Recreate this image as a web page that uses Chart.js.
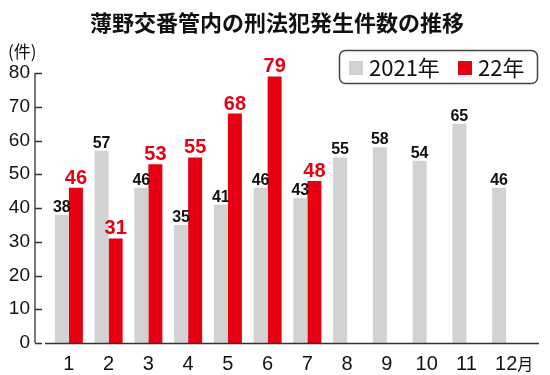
<!DOCTYPE html>
<html lang="ja">
<head>
<meta charset="utf-8">
<title>薄野交番管内の刑法犯発生件数の推移</title>
<script src="https://cdn.jsdelivr.net/npm/chart.js@4/dist/chart.umd.min.js"></script>
<style>
  html, body { margin: 0; padding: 0; background: #fff; }
  #wrap { width: 550px; height: 375px; }
</style>
</head>
<body>
<div id="wrap"><canvas id="chart" width="550" height="375"></canvas></div>
<script>
// データ
const months = ['1', '2', '3', '4', '5', '6', '7', '8', '9', '10', '11', '12'];
const data2021 = [38, 57, 46, 35, 41, 46, 43, 55, 58, 54, 65, 46];
const data2022 = [46, 31, 53, 55, 68, 79, 48, null, null, null, null, null];
const yTicks = [0, 10, 20, 30, 40, 50, 60, 70, 80];

const GRAY = '#d2d2d2';
const RED = '#e60012';
const NARROW = '"Liberation Sans Narrow", "Liberation Sans", sans-serif';
const JP = '"Noto Sans CJK JP", "Noto Sans", sans-serif';

// 軸・凡例・数値ラベル・タイトルを描く
const decorPlugin = {
    id: 'decor',
    afterDraw(chart) {
        const ctx = chart.ctx;
        const x = chart.scales.x;
        const y = chart.scales.y;
        const area = chart.chartArea;
        const axisX = area.left - 14;

        ctx.save();
        ctx.strokeStyle = '#333';
        ctx.lineWidth = 1.3;

        // 縦軸と目盛り
        ctx.beginPath();
        ctx.moveTo(axisX, y.getPixelForValue(yTicks[yTicks.length - 1]));
        ctx.lineTo(axisX, y.getPixelForValue(0));
        yTicks.forEach(v => {
            const py = Math.round(y.getPixelForValue(v)) + 0.5;
            ctx.moveTo(axisX, py);
            ctx.lineTo(axisX + 7, py);
        });
        // 横軸
        const py0 = Math.round(y.getPixelForValue(0)) + 0.5;
        ctx.moveTo(area.left - 4, py0);
        ctx.lineTo(area.right + 13, py0);
        ctx.stroke();

        // 「月」
        const lastX = x.getPixelForTick(months.length - 1);
        ctx.font = '20px ' + NARROW;
        const w = ctx.measureText(months[months.length - 1]).width;
        ctx.font = '16px ' + JP;
        ctx.fillStyle = '#111';
        ctx.textAlign = 'left';
        ctx.textBaseline = 'middle';
        ctx.fillText('月', lastX + w / 2, 364);

        // 数値ラベル
        chart.data.datasets.forEach((ds, i) => {
            const meta = chart.getDatasetMeta(i);
            meta.data.forEach((bar, j) => {
                const v = ds.data[j];
                if (v === null) return;
                ctx.textAlign = 'center';
                ctx.textBaseline = 'alphabetic';
                if (i === 0) {
                    ctx.font = 'bold 16px ' + NARROW;
                    ctx.fillStyle = '#111';
                    ctx.fillText(String(v), bar.x, bar.y - 3);
                } else {
                    ctx.font = 'bold 20px ' + NARROW;
                    ctx.fillStyle = RED;
                    ctx.fillText(String(v), bar.x, bar.y - 4);
                }
            });
        });

        // タイトル
        ctx.font = 'bold 22px ' + JP;
        ctx.fillStyle = '#111';
        ctx.textAlign = 'center';
        ctx.textBaseline = 'middle';
        ctx.fillText('薄野交番管内の刑法犯発生件数の推移', 277, 23);

        // 単位
        ctx.font = '17px ' + JP;
        ctx.textAlign = 'left';
        ctx.fillText('(件)', 8, 52);

        // 凡例
        ctx.beginPath();
        ctx.roundRect(339.5, 50.5, 198, 33, 6);
        ctx.lineWidth = 1.5;
        ctx.strokeStyle = '#444';
        ctx.stroke();
        ctx.font = '22px ' + JP;
        ctx.fillStyle = GRAY;
        ctx.fillRect(349, 61, 14, 14);
        ctx.fillStyle = '#111';
        ctx.fillText('2021年', 369, 68);
        ctx.fillStyle = RED;
        ctx.fillRect(458, 61, 14, 14);
        ctx.fillStyle = '#111';
        ctx.fillText('22年', 478, 68);
        ctx.restore();
    }
};

new Chart(document.getElementById('chart'), {
    type: 'bar',
    data: {
        labels: months,
        datasets: [{
            label: '2021年',
            data: data2021,
            backgroundColor: GRAY,
            barPercentage: 1,
            categoryPercentage: 0.705
        }, {
            label: '22年',
            data: data2022,
            backgroundColor: RED,
            barPercentage: 1,
            categoryPercentage: 0.705
        }]
    },
    options: {
        responsive: false,
        animation: false,
        devicePixelRatio: 1,
        layout: {
            padding: { top: 73, right: 24, bottom: 0, left: 0 }
        },
        plugins: {
            legend: { display: false },
            tooltip: { enabled: false }
        },
        scales: {
            y: {
                min: 0,
                max: 80,
                afterFit(scale) { scale.width = 49; },
                afterBuildTicks(scale) { scale.ticks = yTicks.map(v => ({ value: v })); },
                grid: { display: false, drawTicks: false },
                border: { display: false },
                ticks: {
                    padding: 19,
                    color: '#111',
                    font: { family: NARROW, size: 19 }
                }
            },
            x: {
                afterFit(scale) { scale.height = 32; },
                grid: { display: false, drawTicks: false },
                border: { display: false },
                ticks: {
                    padding: 9,
                    color: '#111',
                    maxRotation: 0,
                    font: { family: NARROW, size: 20 }
                }
            }
        }
    },
    plugins: [decorPlugin]
});
</script>
</body>
</html>
